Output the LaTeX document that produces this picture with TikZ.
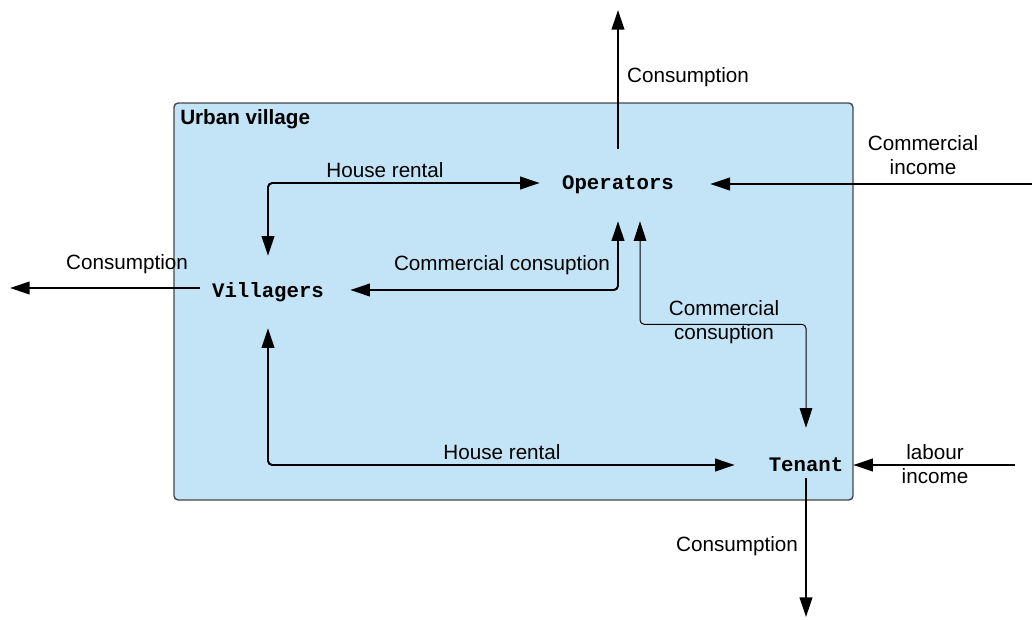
\documentclass[tikz,border=0pt]{standalone}
\usepackage{fontspec}
\setmainfont{Liberation Sans}
\setmonofont{Liberation Mono}
\usetikzlibrary{arrows.meta}
\definecolor{villagefill}{RGB}{194,228,246}
\definecolor{villageline}{RGB}{70,70,70}
\tikzset{bigtri/.tip={Triangle[length=14pt,width=9pt]},
  flow/.style={line width=1.4pt, -bigtri},
  twoflow/.style={line width=1.4pt, bigtri-bigtri},
  thinflow/.style={line width=0.7pt, bigtri-bigtri},
  actor/.style={font=\fontsize{14.7}{17}\selectfont\ttfamily\bfseries, inner sep=0pt},
  txt/.style={font=\fontsize{14.7}{17}\selectfont, align=center, inner sep=0pt}}

\begin{document}
\begin{tikzpicture}[x=0.025cm, y=-0.025cm, rounded corners=3pt]
		\useasboundingbox (0,0) rectangle (1032,619);
		\draw[fill=villagefill, draw=villageline, line width=1pt] (174,103) rectangle (853,500);
		\node[txt, font=\fontsize{14.7}{17}\selectfont\bfseries, anchor=west] (uv) at (180,119) {Urban village};
		% actors
		\node[actor, minimum width=4.25cm, minimum height=1.8cm] (ops) at (618,185) {Operators};
		\node[actor, minimum width=3.75cm, minimum height=1.8cm] (vil) at (268,292) {Villagers};
		\node[actor, minimum width=3.55cm, minimum height=1.85cm] (ten) at (806,465) {Tenant};
		% free ends
		\coordinate (optop) at (618,10);
		\coordinate (vilout) at (10,288);
		\coordinate (comin) at (1032,184);
		\coordinate (labin) at (1015,465);
		\coordinate (tenout) at (806,617);
		% flows
		\draw[flow] (ops.north) to (optop);
		\draw[flow] (comin) to ([xshift=0.175cm, yshift=0.025cm]ops.east);
		\draw[flow] ([xshift=0.175cm]vil.west |- vilout) to (vilout);
		\draw[twoflow] (vil.north) |- ([xshift=0.175cm, yshift=0.05cm]ops.west);
		\draw[twoflow] (ops.south) |- ([xshift=0.175cm, yshift=0.05cm]vil.east);
		\draw[thinflow] ([xshift=0.55cm]ops.south) -- ++(0,103) -| (ten.north);
		\draw[twoflow] (vil.south) |- (ten.west);
		\draw[flow] (labin) to ([xshift=-0.6cm]ten.east);
		\draw[flow] ([yshift=0.6cm]ten.south) to (tenout);
		% labels
		\node[txt] (l1) at (688,77) {Consumption};
		\node[txt] (l2) at (923,155) {Commercial\\income};
		\node[txt] (l3) at (385,170) {House rental};
		\node[txt] (l4) at (127,264) {Consumption};
		\node[txt] (l5) at (502,265) {Commercial consuption};
		\node[txt] (l6) at (724,322) {Commercial\\consuption};
		\node[txt] (l7) at (502,452) {House rental};
		\node[txt] (l8) at (935,464) {labour\\income};
		\node[txt] (l9) at (737,546) {Consumption};
		\end{tikzpicture}
\end{document}
